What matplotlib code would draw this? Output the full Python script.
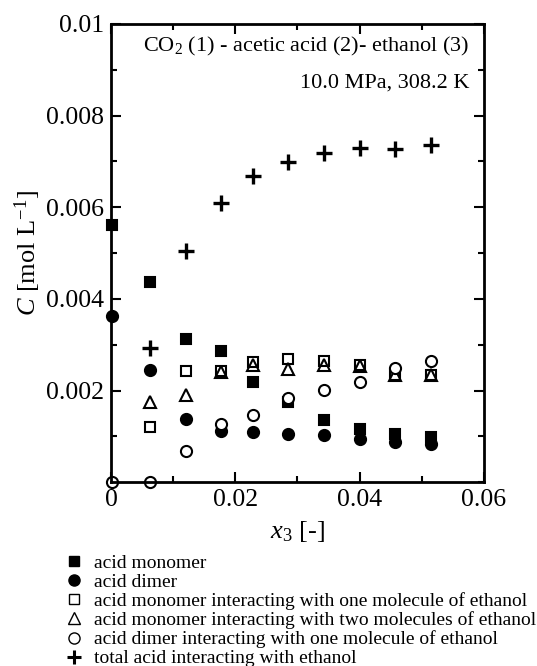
import numpy as np
import matplotlib
matplotlib.use('Agg')
import matplotlib.pyplot as plt
from matplotlib.ticker import MultipleLocator
from matplotlib.lines import Line2D

plt.rcParams['font.family'] = ['Liberation Serif', 'DejaVu Serif']
plt.rcParams['mathtext.fontset'] = 'custom'
plt.rcParams['mathtext.rm'] = 'Liberation Serif'
plt.rcParams['mathtext.it'] = 'Liberation Serif:italic'

# mole fraction of ethanol
x3 = [0.0002, 0.0063, 0.0121, 0.0177, 0.0228, 0.0285, 0.0343, 0.0400, 0.0457, 0.0515]

# concentrations [mol/L], None = no point
monomer = [0.00561, 0.00437, 0.00312, 0.00287, 0.00219, 0.00174, 0.00135, 0.00117, 0.00106, 0.00099]
dimer = [0.00363, 0.00245, 0.00138, 0.00112, 0.00110, 0.00106, 0.00103, 0.00095, 0.00088, 0.00084]
mono_eth1 = [None, 0.00121, 0.00242, 0.00243, 0.00263, 0.00269, 0.00265, 0.00255, 0.00234, 0.00234]
mono_eth2 = [None, 0.00174, 0.00190, 0.00241, 0.00255, 0.00248, 0.00255, 0.00253, 0.00234, 0.00234]
dimer_eth = [0.0, 0.0, 0.00068, 0.00126, 0.00146, 0.00183, 0.00201, 0.00219, 0.00250, 0.00265]
total_eth = [None, 0.00292, 0.00505, 0.00610, 0.00669, 0.00698, 0.00718, 0.00730, 0.00728, 0.00736]

labels = ['acid monomer',
          'acid dimer',
          'acid monomer interacting with one molecule of ethanol',
          'acid monomer interacting with two molecules of ethanol',
          'acid dimer interacting with one molecule of ethanol',
          'total acid interacting with ethanol']


def pts(xs, ys):
    xx = [a for a, b in zip(xs, ys) if b is not None]
    yy = [b for b in ys if b is not None]
    return np.array(xx), np.array(yy)


fig = plt.figure(figsize=(5.37, 6.66), dpi=100)
ax = fig.add_axes([0.207, 0.276, 0.694, 0.688])

ms = 8
kw = dict(linestyle='none', clip_on=False, markeredgewidth=1.5)
x, y = pts(x3, monomer)
ax.plot(x, y, 's', color='black', markersize=ms - 1, **kw)
x, y = pts(x3, dimer)
ax.plot(x, y, 'o', color='black', markersize=ms, **kw)
x, y = pts(x3, mono_eth1)
ax.plot(x, y, 's', markerfacecolor='white', markeredgecolor='black', markersize=ms - 1.5, **kw)
x, y = pts(x3, mono_eth2)
ax.plot(x, y, '^', markerfacecolor='none', markeredgecolor='black', markersize=ms, **kw)
x, y = pts(x3, dimer_eth)
ax.plot(x, y, 'o', markerfacecolor='white', markeredgecolor='black', markersize=ms, **kw)
x, y = pts(x3, total_eth)
ax.plot(x, y, '+', color='black', markersize=ms + 3, markeredgewidth=2.4, linestyle='none', clip_on=False)

ax.set_xlim(0, 0.06)
ax.set_ylim(0, 0.01)
ax.xaxis.set_minor_locator(MultipleLocator(0.01))
ax.yaxis.set_minor_locator(MultipleLocator(0.001))
ax.set_xticks([0, 0.02, 0.04, 0.06])
ax.set_xticklabels(['0', '0.02', '0.04', '0.06'])
ax.set_yticks([0.002, 0.004, 0.006, 0.008, 0.01])
ax.set_yticklabels(['0.002', '0.004', '0.006', '0.008', '0.01'])
ax.tick_params(which='both', direction='in', top=True, right=True, labelsize=18.5, width=1.5)
ax.tick_params(which='major', length=7, pad=5)
ax.tick_params(which='minor', length=4)
for s in ax.spines.values():
    s.set_linewidth(2)

ax.set_xlabel(r'$\mathit{x}_3$ [-]', fontsize=19, labelpad=6)
ax.set_ylabel(r'$\mathit{C}$ [mol L$^{-1}$]', fontsize=19, labelpad=2)

ax.text(0.085, 0.95, r'CO$_2$ (1) - acetic acid (2)- ethanol (3)', transform=ax.transAxes,
        fontsize=16, va='center', ha='left')
ax.text(0.962, 0.871, '10.0 MPa, 308.2 K', transform=ax.transAxes,
        fontsize=16, va='center', ha='right')

handles = [
    Line2D([], [], marker='s', color='black', linestyle='none', markersize=7),
    Line2D([], [], marker='o', color='black', linestyle='none', markersize=8),
    Line2D([], [], marker='s', markerfacecolor='white', markeredgecolor='black', linestyle='none', markersize=7),
    Line2D([], [], marker='^', markerfacecolor='white', markeredgecolor='black', linestyle='none', markersize=8),
    Line2D([], [], marker='o', markerfacecolor='white', markeredgecolor='black', linestyle='none', markersize=8),
    Line2D([], [], marker='+', color='black', linestyle='none', markersize=10, markeredgewidth=2.2),
]
fig.legend(handles, labels, loc='upper left', bbox_to_anchor=(0.124, 0.168), frameon=False,
           fontsize=14, handlelength=0.8, handletextpad=0.6, labelspacing=0.07, borderpad=0,
           borderaxespad=0)

fig.savefig('out.png', dpi=100)
